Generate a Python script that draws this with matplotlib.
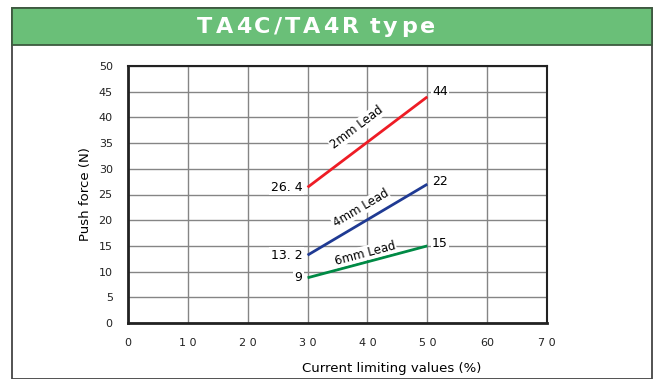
import math
import matplotlib.pyplot as plt
from matplotlib.patches import Rectangle

# Data
x_ticks = [0, 10, 20, 30, 40, 50, 60, 70]
x_tick_labels = ["0", "1 0", "2 0", "3 0", "4 0", "5 0", "60", "7 0"]
y_ticks = [0, 5, 10, 15, 20, 25, 30, 35, 40, 45, 50]

current = [30, 50]
lead_2mm = [26.4, 44]
lead_4mm = [13.2, 27]
lead_6mm = [8.8, 15]

series_names = ["2mm Lead", "4mm Lead", "6mm Lead"]
start_labels = ["26. 4", "13. 2", "9"]
end_labels = ["44", "22", "15"]
end_label_y = [45, 27.5, 15.5]

colors = ["#ee1c25", "#1f3a93", "#008a45"]
title = "TA4C/TA4R type"

fig = plt.figure(figsize=(6.54, 3.79), dpi=100)
renderer = fig.canvas.get_renderer()

# outer frame + green header
W, H = 654, 379
fig.patches.append(Rectangle((12 / W, 0), (652 - 12) / W, (379 - 8) / H, transform=fig.transFigure,
                             facecolor="white", edgecolor="#444444", linewidth=1.3, zorder=-2))
fig.patches.append(Rectangle((12 / W, (379 - 45) / H), (652 - 12) / W, 37 / H, transform=fig.transFigure,
                             facecolor="#6abf78", edgecolor="#3d5a3f", linewidth=1.3, zorder=-1))

# letter-spaced title, placed char by char
spacing = 3.0  # px between letters
pieces = []
total = 0
for ch in title:
    t = fig.text(0, 0, ch, color="white", fontsize=16, fontweight="bold",
                 va="center", ha="left", family="DejaVu Sans")
    w = t.get_window_extent(renderer).width if ch != " " else 5
    pieces.append((t, w))
    total += w + spacing
total -= spacing
xpos = 316 - total / 2
for t, w in pieces:
    t.set_position((xpos / W, (379 - 27) / H))
    xpos += w + spacing

ax = fig.add_axes([128 / W, (379 - 323) / H, (547 - 128) / W, (323 - 66) / H])
ax.set_zorder(2)
ax.set_xlim(0, 70)
ax.set_ylim(0, 50)
ax.set_xticks(x_ticks)
ax.set_xticklabels(x_tick_labels)
ax.set_yticks(y_ticks)
ax.grid(True, color="#858585", linewidth=1.0)
ax.set_axisbelow(True)
ax.tick_params(length=0, labelsize=8, colors="#222222")
ax.tick_params(axis="x", pad=11)
ax.tick_params(axis="y", pad=11)
for s in ax.spines.values():
    s.set_linewidth(1.5)
    s.set_color("#222222")
ax.spines["left"].set_linewidth(2)
ax.spines["bottom"].set_linewidth(2)

ax.set_xlabel("Current limiting values (%)", fontsize=9.5, labelpad=10, x=0.63)
ax.set_ylabel("Push force (N)", fontsize=9.5, labelpad=5)

bg = dict(facecolor="white", edgecolor="none", pad=1)
all_series = [lead_2mm, lead_4mm, lead_6mm]
label_offsets = [13, 9.5, 6.5]
for i, vals in enumerate(all_series):
    ax.plot(current, vals, color=colors[i], linewidth=2, solid_capstyle="butt")
    ax.text(current[0] - 0.9, vals[0], start_labels[i], ha="right", va="center", fontsize=9, bbox=bg)
    ax.text(current[1] + 0.8, end_label_y[i], end_labels[i], ha="left", va="center", fontsize=9, bbox=bg)
    # rotated label sitting just above the middle of the line
    p0 = ax.transData.transform((current[0], vals[0]))
    p1 = ax.transData.transform((current[1], vals[1]))
    ang = math.degrees(math.atan2(p1[1] - p0[1], p1[0] - p0[0]))
    mx, my = (current[0] + current[1]) / 2, (vals[0] + vals[1]) / 2
    off = label_offsets[i]
    ax.annotate(series_names[i], (mx, my),
                xytext=(-math.sin(math.radians(ang)) * off, math.cos(math.radians(ang)) * off),
                textcoords="offset points", rotation=ang, rotation_mode="anchor",
                ha="center", va="center", fontsize=8.5,
                bbox=dict(facecolor="white", edgecolor="none", pad=0.5))

fig.savefig("out.png", dpi=100)
